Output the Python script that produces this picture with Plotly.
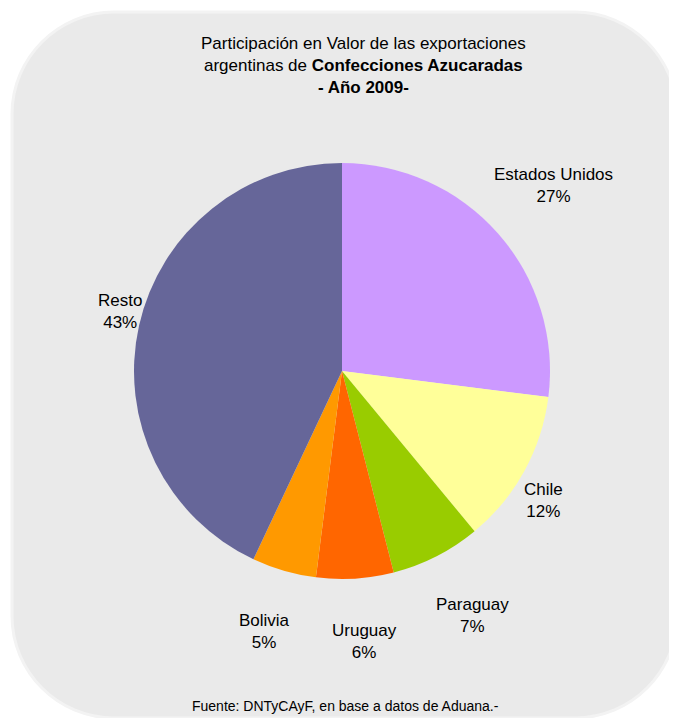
import plotly.graph_objects as go

paises = ["Estados Unidos", "Chile", "Paraguay", "Uruguay", "Bolivia", "Resto"]
participacion = [27, 12, 7, 6, 5, 43]
colores = ["#CC99FF", "#FFFF99", "#99CC00", "#FF6600", "#FF9900", "#666699"]

# label centres (pixels from the figure's top-left corner)
label_pos = [(545, 177), (535, 492), (464, 607), (356, 633), (256, 623), (112, 303)]

# the page body adds an 8px margin, so the figure is 8px smaller than the window
W, H = 669, 710
FONT = "Liberation Sans, Arial, sans-serif"

cx, cy, r = 334, 363, 208

fig = go.Figure()
fig.add_trace(go.Pie(
    labels=paises,
    values=participacion,
    marker=dict(colors=colores, line=dict(width=0)),
    sort=False,
    direction="clockwise",
    rotation=0,
    textinfo="none",
    showlegend=False,
    hoverinfo="label+percent",
    domain=dict(x=[(cx - r) / W, (cx + r) / W], y=[1 - (cy + r) / H, 1 - (cy - r) / H]),
))

total = sum(participacion)
annotations = []
for name, val, (px, py) in zip(paises, participacion, label_pos):
    annotations.append(dict(
        text=f"{name}<br>{round(100 * val / total)}%",
        x=px / W, y=1 - py / H, xref="paper", yref="paper",
        xanchor="center", yanchor="middle", showarrow=False, align="center",
        font=dict(family=FONT, size=17, color="#000000"),
    ))

annotations.append(dict(
    text="Participación en Valor de las exportaciones<br>argentinas de <b>Confecciones Azucaradas</b><br><b>- Año 2009-</b>",
    x=355 / W, y=1 - 57 / H, xref="paper", yref="paper",
    xanchor="center", yanchor="middle", showarrow=False, align="center",
    font=dict(family=FONT, size=17, color="#000000"),
))
annotations.append(dict(
    text="Fuente: DNTyCAyF, en base a datos de Aduana.-",
    x=337 / W, y=1 - 698 / H, xref="paper", yref="paper",
    xanchor="center", yanchor="middle", showarrow=False,
    font=dict(family=FONT, size=14, color="#000000"),
))

# rounded rectangle background
x0, x1 = 4 / W, 1.0
y0, y1 = 0.0, 1 - 4 / H
rx, ry = 102 / W, 102 / H
k = 0.55
path = (
    f"M {x0+rx},{y1} L {x1-rx},{y1} "
    f"C {x1-rx+k*rx},{y1} {x1},{y1-ry+k*ry} {x1},{y1-ry} "
    f"L {x1},{y0+ry} "
    f"C {x1},{y0+ry-k*ry} {x1-rx+k*rx},{y0} {x1-rx},{y0} "
    f"L {x0+rx},{y0} "
    f"C {x0+rx-k*rx},{y0} {x0},{y0+ry-k*ry} {x0},{y0+ry} "
    f"L {x0},{y1-ry} "
    f"C {x0},{y1-ry+k*ry} {x0+rx-k*rx},{y1} {x0+rx},{y1} Z"
)

fig.update_layout(
    width=W, height=H,
    margin=dict(l=0, r=0, t=0, b=0),
    paper_bgcolor="#FFFFFF",
    plot_bgcolor="#FFFFFF",
    font=dict(family=FONT, size=16, color="#000000"),
    shapes=[dict(
        type="path", path=path, xref="paper", yref="paper",
        fillcolor="#EAEAEA", line=dict(color="#F3F3F3", width=3), layer="below",
    )],
    annotations=annotations,
)

fig.write_html("out.html")
